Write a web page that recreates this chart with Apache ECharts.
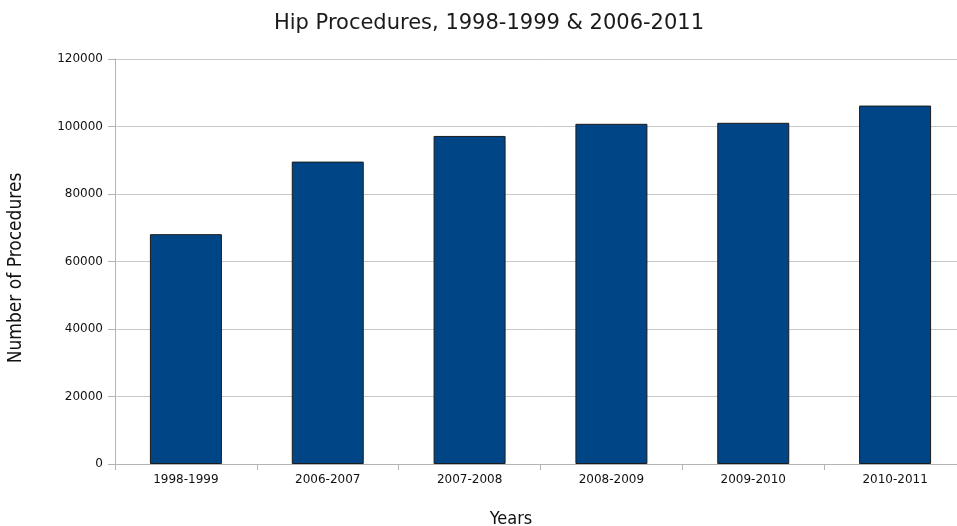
<!DOCTYPE html>
<html>
<head>
<meta charset="utf-8">
<script src="https://cdn.jsdelivr.net/npm/echarts@6/dist/echarts.min.js"></script>
<style>
  html, body { margin: 0; padding: 0; background: #fff; }
  #chart { width: 957px; height: 526px; }
</style>
</head>
<body>
<div id="chart"></div>
<script>
// Hip procedure counts per fiscal period
const categories = ['1998-1999', '2006-2007', '2007-2008', '2008-2009', '2009-2010', '2010-2011'];
const procedures = [68100, 89600, 97200, 100800, 101100, 106200];
const yTicks = { min: 0, max: 120000, interval: 20000 };

const chart = echarts.init(document.getElementById('chart'), null, { renderer: 'canvas' });

chart.setOption({
  backgroundColor: '#ffffff',
  animation: false,
  title: {
    text: 'Hip Procedures, 1998-1999 & 2006-2011',
    left: 484,
    top: 8,
    textAlign: 'center',
    textStyle: { fontFamily: 'DejaVu Sans', fontSize: 21, fontWeight: 'normal', color: '#1a1a1a' }
  },
  // the plot runs a little past the right edge of the canvas
  grid: { left: 115, top: 59, width: 851, height: 405, containLabel: false, outerBoundsMode: 'none' },
  xAxis: {
    type: 'category',
    data: categories,
    name: 'Years',
    nameLocation: 'middle',
    nameGap: 46,
    nameTextStyle: { fontFamily: 'DejaVu Sans Condensed', fontSize: 18, color: '#111', padding: [0, 59, 0, 0] },
    axisLine: { lineStyle: { color: '#b3b3b3', width: 1 } },
    axisTick: { show: true, alignWithLabel: false, length: 6, lineStyle: { color: '#b3b3b3' } },
    axisLabel: { fontFamily: 'DejaVu Sans', fontSize: 12, color: '#111', margin: 10 },
    splitLine: { show: false }
  },
  yAxis: {
    type: 'value',
    min: yTicks.min,
    max: yTicks.max,
    interval: yTicks.interval,
    name: 'Number of Procedures',
    nameLocation: 'middle',
    nameRotate: 90,
    nameGap: 89,
    nameTextStyle: { fontFamily: 'DejaVu Sans Condensed', fontSize: 19, color: '#111', padding: [0, 13, 0, 0] },
    axisLine: { show: true, lineStyle: { color: '#b3b3b3', width: 1 } },
    axisTick: { show: true, length: 7, lineStyle: { color: '#b3b3b3' } },
    axisLabel: {
      fontFamily: 'DejaVu Sans', fontSize: 12, color: '#111', margin: 12,
      formatter: function (v) { return String(v); }
    },
    splitLine: { show: true, lineStyle: { color: '#c8c8c8', width: 1 } }
  },
  series: [{
    type: 'bar',
    data: procedures,
    barWidth: 72,
    itemStyle: { color: '#004586', borderColor: '#1c1c1c', borderWidth: 1 }
  }]
});
</script>
</body>
</html>
